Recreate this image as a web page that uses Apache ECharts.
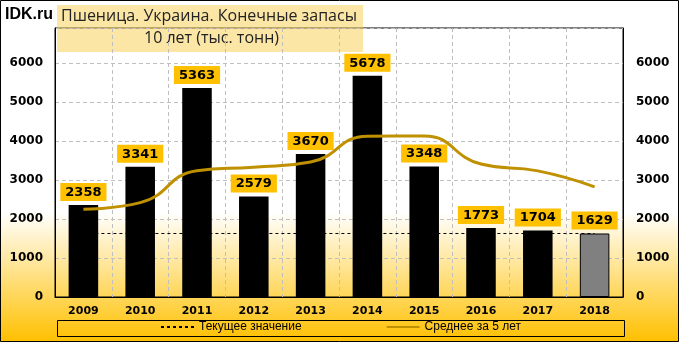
<!DOCTYPE html>
<html><head><meta charset="utf-8">
<script src="https://cdn.jsdelivr.net/npm/echarts@6/dist/echarts.min.js"></script>
<style>html,body{margin:0;padding:0;background:#fff}#c{width:679px;height:342px}</style>
</head><body><div id="c"></div>
<script>
var years = ['2009','2010','2011','2012','2013','2014','2015','2016','2017','2018'];
var stocks = [2358, 3341, 5363, 2579, 3670, 5678, 3348, 1773, 1704, 1629];
var avg5 = [2250, 2420, 3240, 3330, 3462, 4126, 4128, 3410, 3235, 2826];
var current = 1629;
var currentLine = years.map(function(){ return current; });
var yTicks = [0, 1000, 2000, 3000, 4000, 5000, 6000];

var chart = echarts.init(document.getElementById('c'), null, {renderer:'canvas'});
var axisFont = {fontFamily:'DejaVu Sans', fontWeight:'bold', fontSize:12, color:'#000'};
var barData = stocks.map(function(v,i){
  return i === stocks.length-1 ? {value:v, itemStyle:{color:'#808080', borderColor:'#000', borderWidth:1}} : v;
});
function fmt(v){ return yTicks.indexOf(v) >= 0 ? String(v) : ''; }
chart.setOption({
  backgroundColor: {type:'linear', x:0, y:0, x2:0, y2:1, colorStops:[
    {offset:0, color:'#FFFFFF'}, {offset:0.62, color:'#FFFFFF'}, {offset:1, color:'#FFC000'}]},
  animation:false,
  grid:{left:55, right:56, top:28, bottom:45, show:true, borderColor:'#000', borderWidth:1, backgroundColor:'transparent'},
  graphic:[
    {type:'rect', shape:{x:57, y:5, width:306, height:47}, style:{fill:'rgba(250,205,75,0.5)'}},
    {type:'text', left:5, top:7, style:{text:'IDK.ru', font:'bold 16px "Liberation Sans"', fill:'#000'}},
    {type:'text', left:61, top:8, style:{text:'Пшеница. Украина. Конечные запасы', font:'16px "Open Sans"', fill:'#222'}},
    {type:'text', left:144, top:30, style:{text:'10 лет (тыс. тонн)', font:'16px "Open Sans"', fill:'#222'}},
    {type:'rect', shape:{x:57.5, y:320.5, width:567, height:16}, style:{fill:'none', stroke:'#000', lineWidth:1}},
    {type:'rect', shape:{x:0.5, y:0.5, width:678, height:341}, style:{fill:'none', stroke:'#000', lineWidth:1}}
  ],
  legend:{
    orient:'horizontal', left:155, bottom:4, itemWidth:33, itemHeight:10, itemGap:84,
    itemStyle:{opacity:0},
    textStyle:{fontFamily:'Liberation Sans', fontSize:12, color:'#000'},
    data:['Текущее значение', 'Среднее за 5 лет']
  },
  xAxis:{type:'category', data:years, boundaryGap:true,
    axisLine:{lineStyle:{color:'#000'}}, axisTick:{show:false},
    axisLabel:{margin:9, fontSize:11, fontFamily:'DejaVu Sans', fontWeight:'bold', color:'#000'},
    splitLine:{show:true, lineStyle:{color:'#BFBFBF', type:[4,3]}}},
  yAxis:[
    {type:'value', min:0, max:6900, interval:1000,
     axisLine:{show:true, lineStyle:{color:'#000'}}, axisTick:{show:false},
     axisLabel:Object.assign({margin:12, showMaxLabel:false, formatter:fmt}, axisFont),
     splitLine:{show:true, lineStyle:{color:'#BFBFBF', type:[4,3]}}},
    {type:'value', min:0, max:6900, interval:1000, position:'right',
     axisLine:{show:true, lineStyle:{color:'#000'}}, axisTick:{show:false},
     axisLabel:Object.assign({margin:13, showMaxLabel:false, formatter:fmt}, axisFont),
     splitLine:{show:false}}
  ],
  series:[
    {name:'Текущее значение', type:'line', data:currentLine, z:1, symbol:'none',
     lineStyle:{color:'#000', width:1, type:[3,3]}, itemStyle:{color:'#000'}},
    {name:'Stocks', type:'bar', data:barData, barWidth:'52%', z:2,
     itemStyle:{color:'#000'},
     label:{show:true, position:'top', distance:4, backgroundColor:'#FFC000', padding:[3,5,2,5],
       fontFamily:'DejaVu Sans', fontWeight:'bold', fontSize:13, color:'#000'}},
    {name:'Среднее за 5 лет', type:'line', data:avg5, smooth:0.5, symbol:'none', z:3,
     lineStyle:{color:'#BF9000', width:3}, itemStyle:{color:'#BF9000'}}
  ]
});
</script></body></html>
